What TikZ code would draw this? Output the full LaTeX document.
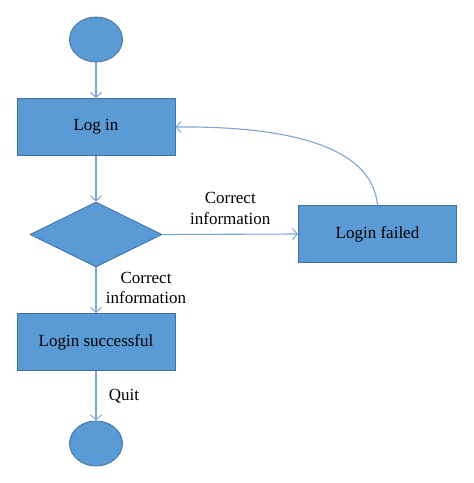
\documentclass[tikz,border=0pt]{standalone}
\usepackage{fontspec}
\setmainfont{Liberation Serif}
\usetikzlibrary{arrows.meta,shapes.geometric}
\definecolor{boxfill}{HTML}{5B9BD5}
\definecolor{boxline}{HTML}{41719C}
\definecolor{arrowc}{HTML}{7EA6D8}
\begin{document}
\begin{tikzpicture}[x=1pt,y=-1pt,
  every node/.style={font=\fontsize{17}{20}\selectfont},
  blockbox/.style={draw=boxline,fill=boxfill,line width=0.8pt,minimum width=158pt,minimum height=57pt,inner sep=0pt},
  endpoint/.style={ellipse,draw=boxline,fill=boxfill,line width=0.8pt,minimum width=53pt,minimum height=45pt,inner sep=0pt},
  choice/.style={diamond,draw=boxline,fill=boxfill,line width=0.8pt,aspect=2.03,minimum width=132pt,minimum height=65pt,inner sep=0pt},
  flow/.style={draw=arrowc,line width=1.1pt,-{Straight Barb[length=5pt,width=11pt,line width=1pt]}},
  lbl/.style={align=center,font=\fontsize{17}{20.5}\selectfont}]
\useasboundingbox (0,0) rectangle (474,483);
\node[endpoint] (start) at (96,39.5) {};
\node[blockbox] (login) at (96,127) {Log in};
\node[choice] (dec) at (96,234.5) {};
\node[blockbox] (fail) at (377.5,234) {Login failed};
\node[blockbox] (succ) at (96,342) {Login successful};
\node[endpoint] (stop) at (96,443.5) {};
\draw[flow] (start) -- (login);
\draw[flow] (login) -- (dec);
\draw[flow] (dec.east) -- node[lbl,above=6pt] {Correct\\information} (fail.west);
\draw[flow] (dec.south) -- node[lbl,right=6pt,pos=0.45] {Correct\\information} (succ.north);
\draw[flow] (succ) -- node[lbl,right=9pt,pos=0.5] {Quit} (stop);
\draw[flow] (fail.north) .. controls (372,145) and (285,126) .. (login.east);
\end{tikzpicture}
\end{document}
